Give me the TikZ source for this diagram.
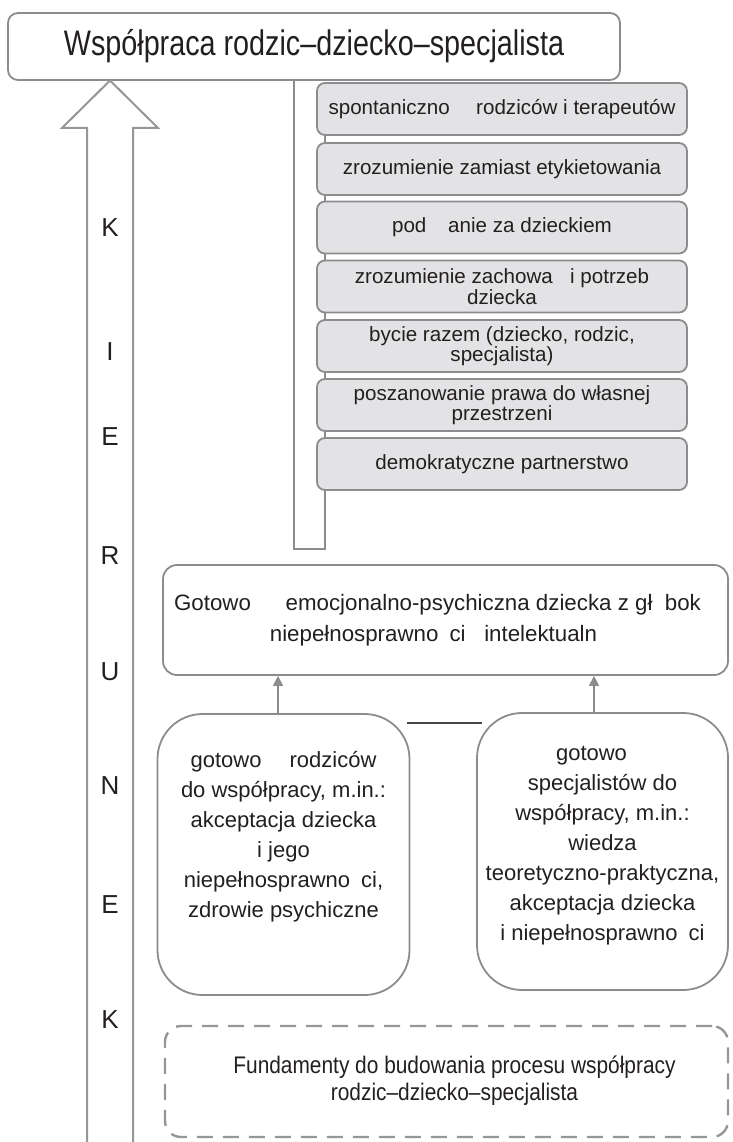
\documentclass[tikz,border=0pt]{standalone}
\usepackage{fontspec}
\setmainfont{Liberation Sans}
\usetikzlibrary{arrows.meta}
\definecolor{bordergray}{RGB}{140,140,143}
\definecolor{boxfill}{RGB}{227,227,229}
\definecolor{arrowgray}{RGB}{150,150,153}
\definecolor{txt}{RGB}{35,31,32}
\definecolor{darkline}{RGB}{70,70,72}
\definecolor{dashgray}{RGB}{150,150,152}
\tikzset{
  basebox/.style={draw=bordergray, line width=1.8pt, text=txt, inner sep=0pt, align=center},
  titlebox/.style={basebox, rounded corners=10pt, minimum width=612pt, minimum height=67pt},
  graybox/.style={basebox, fill=boxfill, rounded corners=8pt, minimum width=370pt, minimum height=52pt,
    font={\fontsize{20.6}{20.5}\selectfont}},
  midbox/.style={basebox, rounded corners=14pt, minimum width=565pt, minimum height=110pt,
    font={\fontsize{22.3}{31}\selectfont}},
  bigbox/.style={basebox, rounded corners=45pt, minimum width=252pt,
    font={\fontsize{22}{30}\selectfont}},
  fundbox/.style={draw=dashgray, line width=2.4pt, dash pattern=on 16pt off 10pt, rounded corners=16pt,
    minimum width=563pt, minimum height=111pt, inner sep=0pt, text=txt},
  letter/.style={text=txt, font={\fontsize{26}{26}\selectfont}, inner sep=0pt},
  conn/.style={draw=bordergray, line width=1.5pt, -{Triangle[length=10pt,width=10pt]}},
  bracket/.style={draw=bordergray, line width=2pt},
  bigarrow/.style={draw=arrowgray, line width=2pt, line join=miter}
}
\begin{document}
\begin{tikzpicture}[x=1pt,y=-1pt]
\useasboundingbox (0,0) rectangle (732,1142);
% title
\node[titlebox] (title) at (314,46.5) {\fontsize{35.5}{40}\selectfont\scalebox{0.81}[1]{Współpraca rodzic–dziecko–specjalista}};
% big hollow arrow
\draw[bigarrow] (87,1142) -- (87,128) -- (62,128) -- (110,80.5) -- (158,128) -- (133,128) -- (133,1142);
% letters
\node[letter] (k1) at (110,228) {K};
\node[letter] (i1) at (110,352) {I};
\node[letter] (e1) at (110,437) {E};
\node[letter] (r1) at (110,556) {R};
\node[letter] (u1) at (110,672) {U};
\node[letter] (n1) at (110,786) {N};
\node[letter] (e2) at (110,905) {E};
\node[letter] (k2) at (110,1020) {K};
% bracket
\coordinate (bl) at (294,549);
\coordinate (br) at (325,549);
\coordinate (bt) at (325,90);
\draw[bracket] (title.south -| bl) -- (bl) -- (br) -- (bt);
% gray boxes
\node[graybox] (g1) at (502,109) {spontaniczno\hphantom{ść} rodziców i terapeutów};
\node[graybox] (g2) at (502,169) {zrozumienie zamiast etykietowania};
\node[graybox] (g3) at (502,227.5) {pod\hphantom{ąż}anie za dzieckiem};
\node[graybox] (g4) at (502,286.5) {zrozumienie zachowa\hphantom{ń} i potrzeb\\dziecka};
\node[graybox] (g5) at (502,346) {bycie razem (dziecko, rodzic,\\specjalista)};
\node[graybox] (g6) at (502,405) {poszanowanie prawa do własnej\\przestrzeni};
\node[graybox] (g7) at (502,464) {demokratyczne partnerstwo};
% middle box
\node[midbox] (mid) at (445.5,620) {Gotowo\hphantom{ść} \ emocjonalno-psychiczna dziecka z gł\hphantom{ę}bok\hspace*{16pt}\\niepełnosprawno\hphantom{ś}ci\hphantom{ą} intelektualn\hspace*{24pt}};
% lower boxes
\node[bigbox, minimum height=281pt, text depth=41pt] (left) at (283.5,854.5) {gotowo\hphantom{ść} rodziców\\do współpracy, m.in.:\\akceptacja dziecka\\i jego\\niepełnosprawno\hphantom{ś}ci,\\zdrowie psychiczne};
\node[bigbox, minimum height=277pt, minimum width=251pt, text depth=17pt] (right) at (602.5,851.5) {gotowo\hphantom{ść}\\specjalistów do\\współpracy, m.in.:\\wiedza\\teoretyczno-praktyczna,\\akceptacja dziecka\\i niepełnosprawno\hphantom{ś}ci};
% connectors
\draw[conn] ([xshift=-5.5pt]left.north) -- ([xshift=-5.5pt]left.north |- mid.south);
\draw[conn] ([xshift=-8.5pt]right.north) -- ([xshift=-8.5pt]right.north |- mid.south);
\coordinate (s1) at (407,723);
\coordinate (s2) at (482,723);
\draw[draw=darkline, line width=1.5pt] (s1) -- (s2);
% foundation
\node[fundbox] (fund) at (446.5,1081.5) {\hspace*{16pt}\scalebox{0.87}[1]{\fontsize{24}{27}\selectfont\begin{tabular}{@{}c@{}}Fundamenty do budowania procesu współpracy\\rodzic–dziecko–specjalista\end{tabular}}};
\end{tikzpicture}
\end{document}
